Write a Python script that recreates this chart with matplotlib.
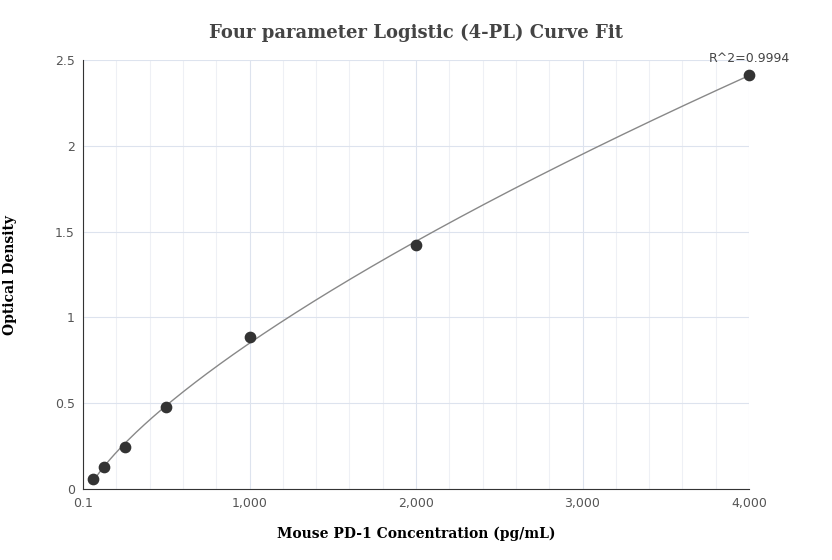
import numpy as np
import matplotlib
matplotlib.use("Agg")
import matplotlib.pyplot as plt

conc = [62.5, 125, 250, 500, 1000, 2000, 4000]
od = [0.058, 0.128, 0.245, 0.478, 0.886, 1.422, 2.413]
xticks = [0.1, 1000, 2000, 3000, 4000]
xticklabels = ["0.1", "1,000", "2,000", "3,000", "4,000"]
yticks = [0, 0.5, 1, 1.5, 2, 2.5]
yticklabels = ["0", "0.5", "1", "1.5", "2", "2.5"]

x = np.array(conc); y = np.array(od)
best = None
for b in np.linspace(0.5, 2.0, 151):
    for c in np.logspace(2, 6, 200):
        g = 1.0 / (1.0 + (x / c) ** b)
        A = np.vstack([g, 1 - g]).T
        coef, *_ = np.linalg.lstsq(A, y, rcond=None)
        r = np.sum((A @ coef - y) ** 2)
        if best is None or r < best[0]:
            best = (r, b, c, coef)
_, b, c, (a, d) = best
xs = np.linspace(conc[0], conc[-1], 400)
ys = d + (a - d) / (1 + (xs / c) ** b)

fig = plt.figure(figsize=(8.32, 5.6), dpi=100)
ax = fig.add_axes([83/832, 1-489/560, (749-83)/832, (489-60)/560])
ax.set_xlim(0, 4000); ax.set_ylim(0, 2.5)
ax.set_xticks(np.arange(0, 4001, 200), minor=True)
ax.grid(True, which="minor", axis="x", color="#eef0f5", lw=0.8)
ax.grid(True, which="major", color="#dde3ee", lw=0.8)
ax.set_axisbelow(True)
ax.plot(xs, ys, color="#888888", lw=1)
ax.scatter(conc, od, s=55, color="#333333", zorder=3, clip_on=False)
ax.set_xticks(xticks); ax.set_xticklabels(xticklabels)
ax.set_yticks(yticks); ax.set_yticklabels(yticklabels)
ax.tick_params(colors="#555555", labelsize=9, length=0, pad=6)
ax.tick_params(which="minor", length=0)
for s in ["top", "right"]:
    ax.spines[s].set_visible(False)
for s in ["left", "bottom"]:
    ax.spines[s].set_color("#333333")
ax.text(4000, 2.47, "R^2=0.9994", ha="center", va="bottom", fontsize=9, color="#444444")
fig.text(416/832, 1-33/560, "Four parameter Logistic (4-PL) Curve Fit", ha="center", va="center",
         fontsize=13, fontweight="bold", family="DejaVu Serif", color="#444444")
ax.set_xlabel("Mouse PD-1 Concentration (pg/mL)", fontsize=10, fontweight="bold", family="DejaVu Serif", labelpad=12)
fig.text(10/832, 1-275/560, "Optical Density", rotation=90, ha="center", va="center",
         fontsize=10, fontweight="bold", family="DejaVu Serif")
fig.savefig("out.png")
